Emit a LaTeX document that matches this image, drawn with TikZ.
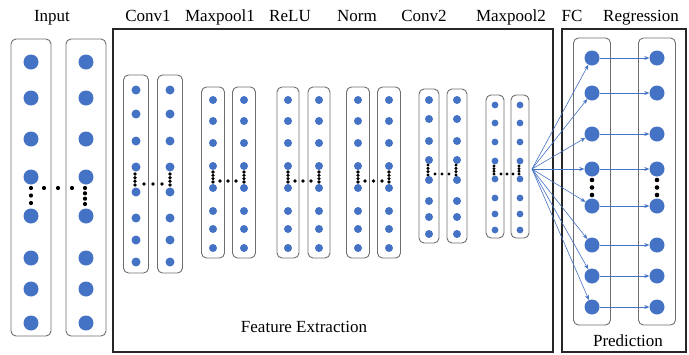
\documentclass[tikz,border=0pt]{standalone}
\usepackage{fontspec}
\setmainfont{Liberation Serif}
\usetikzlibrary{arrows.meta}
\definecolor{nblue}{HTML}{4472C4}
\definecolor{boxgray}{HTML}{6E6E6E}
\tikzset{
  colbox/.style={draw=boxgray, line width=0.9pt, rounded corners=5pt, inner sep=0pt},
  neuron/.style={circle, fill=nblue, inner sep=0pt, draw=none},
  bigbox/.style={draw=black!85, line width=1.1pt, inner sep=0pt},
  lbl/.style={font=\fontsize{17}{20}\selectfont, anchor=base, inner sep=0pt},
  arr/.style={draw=nblue, line width=0.6pt, -{Stealth[length=5pt,width=4pt]}},
}
\newcommand\mkcol[7]{% name, x, half width, top, bottom, radius, y list
  \node[colbox, minimum width={2*#3*1pt}, minimum height={(#5-#4)*1pt}] (#1) at (#2,{(#4+#5)/2}) {};
  \foreach \yy [count=\ii] in {#7} \node[neuron, minimum size={2*#6*1pt}] (#1-\ii) at (#2,\yy) {};
}
\newcommand\vdts[5]{% x, y1, y2, n, r
  \foreach \kk in {1,...,#4} \fill ({#1},{#2+(\kk-1)*(#3-#2)/(#4-1)}) circle[radius=#5pt];
}
\newcommand\hdts[5]{% x1, x2, y, n, r
  \foreach \kk in {1,...,#4} \fill ({#1+(\kk-1)*(#2-#1)/(#4-1)},{#3}) circle[radius=#5pt];
}
\begin{document}
\begin{tikzpicture}[x=1pt,y=-1pt]
\useasboundingbox (0,0) rectangle (689,354);

% big frames
\node[bigbox, minimum width=440pt, minimum height=323pt] (feat) at (333,190.5) {};
\node[bigbox, minimum width=124pt, minimum height=323pt] (pred) at (624,190.5) {};

% Input
\mkcol{inA}{31}{20}{39}{336}{7.5}{62,98,139,177,216,258,289,323}
\mkcol{inB}{86}{20}{39}{336}{7.5}{62,98,139,177,216,258,289,323}
\vdts{31}{188}{203}{3}{2.1}
\hdts{44}{72}{188}{3}{2.1}
\vdts{85}{188}{204}{4}{2.1}

% Conv1
\mkcol{caA}{136}{12.5}{75}{273}{4.5}{90,114,141,167,192,218,240,262}
\mkcol{caB}{170}{12.5}{75}{273}{4.5}{90,114,141,167,192,218,240,262}
\vdts{135}{174}{185}{4}{1.9}
\hdts{144}{162}{184}{3}{1.9}
\vdts{170}{174}{185}{4}{1.9}

% Maxpool1
\mkcol{maA}{213}{11.5}{87}{258}{4}{100,121,143,166,188,211,229,248}
\mkcol{maB}{244}{11.5}{87}{258}{4}{100,121,143,166,188,211,229,248}
\vdts{213}{172}{182}{4}{1.8}
\hdts{220}{236}{181}{3}{1.8}
\vdts{244}{172}{182}{4}{1.8}

% ReLU
\mkcol{reA}{288}{11}{87}{258}{4}{100,121,143,166,188,211,229,248}
\mkcol{reB}{319}{11}{87}{258}{4}{100,121,143,166,188,211,229,248}
\vdts{288}{172}{182}{4}{1.8}
\hdts{295}{311}{181}{3}{1.8}
\vdts{319}{172}{182}{4}{1.8}

% Norm
\mkcol{noA}{358}{11.5}{87}{258}{4}{100,121,143,166,188,211,229,248}
\mkcol{noB}{389}{11.5}{87}{258}{4}{100,121,143,166,188,211,229,248}
\vdts{358}{172}{182}{4}{1.8}
\hdts{365}{382}{181}{3}{1.8}
\vdts{389}{172}{182}{4}{1.8}

% Conv2
\mkcol{cbA}{429}{10}{89}{243}{4}{100,119,141,160,180,201,217,234}
\mkcol{cbB}{457}{10}{89}{243}{4}{100,119,141,160,180,201,217,234}
\vdts{428}{165}{175}{4}{1.7}
\hdts{435}{449}{174}{3}{1.7}
\vdts{456}{165}{175}{4}{1.7}

% Maxpool2
\mkcol{mbA}{495}{9}{95}{238}{3.4}{105,123,142,161,179,198,214,230}
\mkcol{mbB}{520}{9}{95}{238}{3.4}{105,123,142,161,179,198,214,230}
\vdts{494}{166}{174}{4}{1.6}
\hdts{501}{513}{174}{3}{1.6}
\vdts{519}{166}{174}{4}{1.6}

% FC and Regression
\mkcol{fc}{592}{18.5}{38}{325}{7.5}{58,93,134,169,206,245,276,307}
\mkcol{rg}{657}{18.5}{38}{325}{7.5}{58,93,134,169,206,245,276,307}
\vdts{592}{180}{195}{3}{2.3}
\vdts{657}{180}{195}{3}{2.3}

% connectors
\coordinate (src) at (532,169);
\foreach \i in {1,...,8} {
  \draw[arr] (src) -- (fc-\i);
  \draw[arr] (fc-\i) -- (rg-\i);
}

% labels
\node[lbl] (tIn) at (52,21) {Input};
\node[lbl] (tC1) at (148,21) {Conv1};
\node[lbl] (tM1) at (220,21) {Maxpool1};
\node[lbl] (tRe) at (290,21) {ReLU};
\node[lbl] (tNo) at (357,21) {Norm};
\node[lbl] (tC2) at (424,21) {Conv2};
\node[lbl] (tM2) at (511,21) {Maxpool2};
\node[lbl] (tFC) at (572,21) {FC};
\node[lbl] (tRg) at (641,21) {Regression};
\node[lbl] (tFe) at (304,332) {Feature Extraction};
\node[lbl] (tPr) at (628,346) {Prediction};
\end{tikzpicture}
\end{document}
